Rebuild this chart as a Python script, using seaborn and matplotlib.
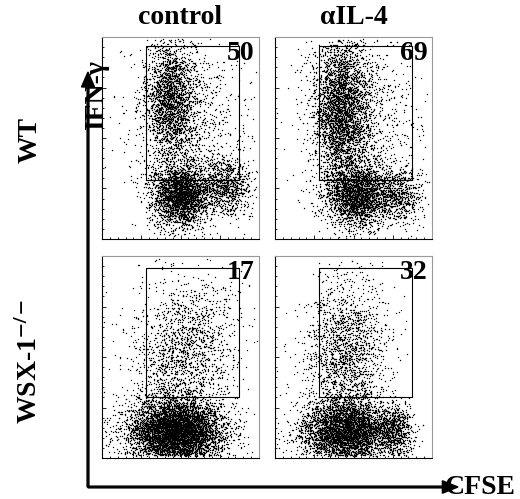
import numpy as np
import pandas as pd
import matplotlib
matplotlib.use("Agg")
import matplotlib.pyplot as plt
import seaborn as sns

# Populations, per panel: centre x, centre y, sd x, sd y, event count
# (panel coordinates run 0..1 on both log-scaled axes)
wt_control = [(0.44, 0.70, 0.08, 0.15, 2000), (0.50, 0.22, 0.09, 0.08, 2600),
              (0.78, 0.26, 0.08, 0.07, 900), (0.55, 0.55, 0.18, 0.22, 1000)]
wt_il4 = [(0.42, 0.65, 0.09, 0.18, 3000), (0.52, 0.22, 0.10, 0.08, 2400),
          (0.78, 0.22, 0.08, 0.07, 700), (0.55, 0.55, 0.18, 0.22, 1000)]
ko_control = [(0.47, 0.13, 0.15, 0.08, 6000), (0.50, 0.45, 0.17, 0.17, 1400),
              (0.60, 0.70, 0.15, 0.12, 400)]
ko_il4 = [(0.45, 0.13, 0.14, 0.08, 4200), (0.45, 0.52, 0.13, 0.19, 1800),
          (0.76, 0.14, 0.06, 0.06, 700)]
percents = ["50", "69", "17", "32"]
col_titles = ["control", "\u03b1IL-4"]
row_titles = ["WT", "WSX-1$^{\\mathbf{-/-}}$"]
# gate rectangles (x0, x1, y0, y1)
gates = [(0.28, 0.87, 0.29, 0.955), (0.28, 0.87, 0.29, 0.955),
         (0.28, 0.87, 0.30, 0.94), (0.28, 0.87, 0.30, 0.94)]

rng = np.random.default_rng(7)


def make_events(pops):
    frames = []
    for cx, cy, sx, sy, n in pops:
        frames.append(pd.DataFrame({"x": rng.normal(cx, sx, n), "y": rng.normal(cy, sy, n)}))
    df = pd.concat(frames)
    return df[(df.x > 0.01) & (df.x < 0.99) & (df.y > 0.01) & (df.y < 0.99)]


fig = plt.figure(figsize=(5.2, 4.99), dpi=100)
plt.rcParams["font.family"] = ["Liberation Serif", "DejaVu Serif"]
plt.rcParams["mathtext.fontset"] = "stix"
W, H = 520, 499
boxes = [(102, 37), (275, 37), (102, 256), (275, 256)]
pw, ph = 157, 202
panels = [wt_control, wt_il4, ko_control, ko_il4]

for i, (pops, (bx, by)) in enumerate(zip(panels, boxes)):
    ax = fig.add_axes([bx / W, 1 - (by + ph) / H, pw / W, ph / H])
    df = make_events(pops)
    sns.scatterplot(data=df, x="x", y="y", s=1.0, color="black", linewidth=0, ax=ax, legend=False)
    x0, x1, y0, y1 = gates[i]
    ax.plot([x0, x1, x1, x0, x0], [y0, y0, y1, y1, y0], color="black", lw=0.8)
    ax.text(0.97, 0.98, percents[i], transform=ax.transAxes, ha="right", va="top",
            fontsize=20, fontweight="bold")
    ax.set_xlim(0, 1)
    ax.set_ylim(0, 1)
    ax.set_xlabel("")
    ax.set_ylabel("")
    ax.set_xticks([0.25, 0.5, 0.75])
    ax.set_yticks([0.25, 0.5, 0.75])
    ax.set_xticklabels([])
    ax.set_yticklabels([])
    ax.minorticks_on()
    ax.tick_params(which="both", direction="in", length=3, width=0.6)
    ax.tick_params(which="minor", length=1.5)
    for side in ["top", "right"]:
        ax.spines[side].set_color("0.6")
    for sp in ax.spines.values():
        sp.set_linewidth(0.8)

for j, t in enumerate(col_titles):
    fig.text((boxes[j][0] + pw / 2) / W, 1 - 17 / H, t, ha="center", va="center",
             fontsize=20, fontweight="bold")
fig.text(30 / W, 1 - 140 / H, row_titles[0], rotation=90, ha="center", va="center",
         fontsize=20, fontweight="bold")
fig.text(30 / W, 1 - 362 / H, row_titles[1], rotation=90, ha="center", va="center",
         fontsize=20, fontweight="bold")
fig.text(97 / W, 1 - 95 / H, "IFN-\u03b3", rotation=90, ha="center", va="center",
         fontsize=20, fontweight="bold")
fig.text(516 / W, 1 - 487 / H, "CFSE", ha="right", va="center", fontsize=20, fontweight="bold")

# axis arrows
fig.patches.append(matplotlib.patches.FancyArrow(
    88 / W, 1 - 487 / H, 0, (487 - 72) / H, width=0.0035, head_width=0.025,
    head_length=0.03, color="black", transform=fig.transFigure, length_includes_head=True))
fig.patches.append(matplotlib.patches.FancyArrow(
    88 / W, 1 - 487 / H, (458 - 88) / W, 0, width=0.0035, head_width=0.025,
    head_length=0.03, color="black", transform=fig.transFigure, length_includes_head=True))

fig.savefig("out.png", dpi=100)
